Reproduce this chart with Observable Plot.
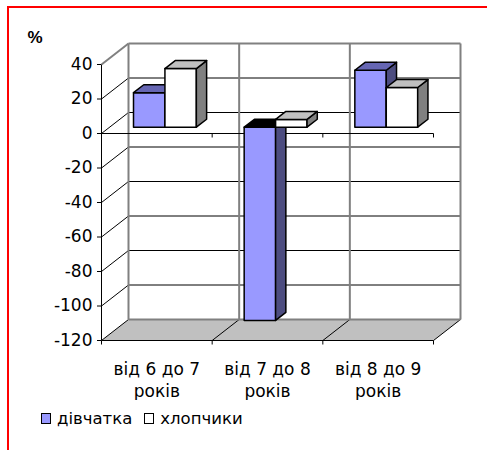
<!DOCTYPE html>
<html><head><meta charset="utf-8">
<script src="https://cdn.jsdelivr.net/npm/d3@7"></script>
<script src="https://cdn.jsdelivr.net/npm/@observablehq/plot@0.6"></script>
<style>
html,body{margin:0;padding:0;background:#fff;overflow:hidden;width:487px;height:450px;}
#wrap{position:relative;width:487px;height:450px;}
#frame{position:absolute;left:7px;top:6px;width:700px;height:700px;border-left:2px solid #ff0000;border-top:2px solid #ff0000;pointer-events:none;}
#legend{position:absolute;left:41px;top:411px;font-family:"DejaVu Sans";font-size:16.5px;line-height:16px;color:#000;white-space:nowrap;}
.item{margin-right:12px;}
.sw{display:inline-block;width:10px;height:11px;border:1px solid #000;box-sizing:border-box;margin-right:6px;}
</style></head><body><div id="wrap"><div id="chart"></div><div id="legend"></div><div id="frame"></div></div>
<script>
// ---- data ----
const categories = ["від 6 до 7 років", "від 7 до 8 років", "від 8 до 9 років"];
const seriesNames = ["дівчатка", "хлопчики"];
const girls = [20, -112, 33];
const boys = [34, 4.5, 23];
const yTicks = [-120, -100, -80, -60, -40, -20, 0, 20, 40];
const yLabel = "%";

// ---- styles / layout ----
const seriesColors = [
  {front: "#9999FF", top: "#6666B3", side: "#4D4D80", swatch: "#9999FF"},
  {front: "#FFFFFF", top: "#C0C0C0", side: "#808080", swatch: "#FFFFFF"}
];
const W = 487, H = 400;
const FRONT = {left: 101, right: 433, top: 64, bottom: 340};
const yMin = yTicks[0], yMax = yTicks[yTicks.length - 1];
const nCat = categories.length;
const pxPerCat = (FRONT.right - FRONT.left) / nCat;
const pxPerVal = (FRONT.bottom - FRONT.top) / (yMax - yMin);
const DEPTH_DX = 27, DEPTH_DY = 21; // oblique depth in px
const depthX = DEPTH_DX / pxPerCat, depthY = DEPTH_DY / pxPerVal;
const P = (c, v, z) => ({x: c + z * depthX, y: v + z * depthY});
const TICK = 4 / pxPerVal;
const BAR_Z = [0.3, 0.68];
const GROUP_PAD = 0.216, BAR_W = 0.284;

// walls & floor polygons
const walls = [];
function addPoly(arr, id, pts, fill) {
  pts.concat([pts[0]]).forEach(p => arr.push({id, x: p.x, y: p.y, fill}));
}
addPoly(walls, "side", [P(0, yMin, 0), P(0, yMax, 0), P(0, yMax, 1), P(0, yMin, 1)], "#FFFFFF");
addPoly(walls, "back", [P(0, yMin, 1), P(nCat, yMin, 1), P(nCat, yMax, 1), P(0, yMax, 1)], "#FFFFFF");
addPoly(walls, "floor", [P(0, yMin, 0), P(nCat, yMin, 0), P(nCat, yMin, 1), P(0, yMin, 1)], "#C0C0C0");

// thin black gridlines
const thin = [];
yTicks.filter(t => t !== yMax).forEach(t => {
  const a = P(0, t, 0), b = P(0, t, 1), c = P(nCat, t, 1);
  thin.push({x1: a.x, y1: a.y, x2: b.x, y2: b.y});
  if (t !== yMin) thin.push({x1: b.x, y1: b.y, x2: c.x, y2: c.y});
});
d3.range(1, nCat + 1).forEach(c => {
  const a = P(c, yMin, 0), b = P(c, yMin, 1);
  thin.push({x1: a.x, y1: a.y, x2: b.x, y2: b.y});
});
// gray wall edges
const gray = [];
d3.range(0, nCat + 1).forEach(c => {
  const a = P(c, yMin, 1), b = P(c, yMax, 1);
  gray.push({x1: a.x, y1: a.y, x2: b.x, y2: b.y});
});
[[P(0, yMax, 1), P(nCat, yMax, 1)], [P(0, yMin, 1), P(nCat, yMin, 1)], [P(0, yMax, 0), P(0, yMax, 1)]]
  .forEach(([a, b]) => gray.push({x1: a.x, y1: a.y, x2: b.x, y2: b.y}));
// front axis lines
const front = [
  {x1: 0, y1: yMin, x2: 0, y2: yMax},
  {x1: 0, y1: 0, x2: nCat, y2: 0},
  {x1: 0, y1: yMin, x2: nCat, y2: yMin}
];
d3.range(0, nCat + 1).forEach(c => {
  front.push({x1: c, y1: 0, x2: c, y2: -TICK});
  front.push({x1: c, y1: yMin, x2: c, y2: yMin - TICK});
});

// bars
const bars = [];
const seriesValues = [girls, boys];
categories.forEach((cat, i) => seriesValues.forEach((vals, s) => {
  const v = vals[i], col = seriesColors[s];
  const x0 = i + GROUP_PAD + s * BAR_W, x1 = x0 + BAR_W;
  const [z0, z1] = BAR_Z;
  const t = Math.max(v, 0);
  const id = `b${i}-${s}`;
  addPoly(bars, id + "f", [P(x0, 0, z0), P(x1, 0, z0), P(x1, v, z0), P(x0, v, z0)], col.front);
  addPoly(bars, id + "s", [P(x1, 0, z0), P(x1, v, z0), P(x1, v, z1), P(x1, 0, z1)], col.side);
  addPoly(bars, id + "t", [P(x0, t, z0), P(x1, t, z0), P(x1, t, z1), P(x0, t, z1)], v < 0 ? "#000000" : col.top);
}));

const chart = Plot.plot({
  width: W, height: H,
  marginLeft: FRONT.left, marginRight: W - FRONT.right,
  marginTop: FRONT.top, marginBottom: H - FRONT.bottom,
  style: {fontFamily: "DejaVu Sans", fontSize: "17px", color: "#000", background: "transparent"},
  x: {domain: [0, nCat], axis: null},
  y: {domain: [yMin, yMax], ticks: yTicks, tickSize: 4, tickPadding: 5, tickFormat: d => String(d), label: null},
  color: {type: "identity"},
  marks: [
    Plot.line(walls, {x: "x", y: "y", z: "id", fill: "fill", stroke: "none", curve: "linear"}),
    Plot.link(thin, {x1: "x1", y1: "y1", x2: "x2", y2: "y2", stroke: "#000", strokeWidth: 1}),
    Plot.link(gray, {x1: "x1", y1: "y1", x2: "x2", y2: "y2", stroke: "#808080", strokeWidth: 2}),
    Plot.link(front, {x1: "x1", y1: "y1", x2: "x2", y2: "y2", stroke: "#000", strokeWidth: 1}),
    Plot.line(bars, {x: "x", y: "y", z: "id", fill: "fill", stroke: "#000", strokeWidth: 1.5, strokeLinejoin: "round", curve: "linear"}),
    Plot.text(categories, {x: (d, i) => i + 0.5, frameAnchor: "bottom", text: d => d.replace(/ (\S+)$/, "\n$1"),
      lineAnchor: "top", dy: 19, lineHeight: 22 / 17, fontSize: 17, fill: "#000"}),
    Plot.text([yLabel], {frameAnchor: "top-left", text: d => d, textAnchor: "start", lineAnchor: "top",
      dx: -74, dy: -34, fontFamily: "Liberation Sans", fontWeight: "bold", fontSize: 17, fill: "#000"})
  ]
});
document.getElementById("chart").appendChild(chart);

// legend
const lg = d3.select("#legend");
seriesNames.forEach((name, s) => {
  const item = lg.append("span").attr("class", "item");
  item.append("span").attr("class", "sw").style("background", seriesColors[s].swatch);
  item.append("span").text(name);
});
</script></body></html>
